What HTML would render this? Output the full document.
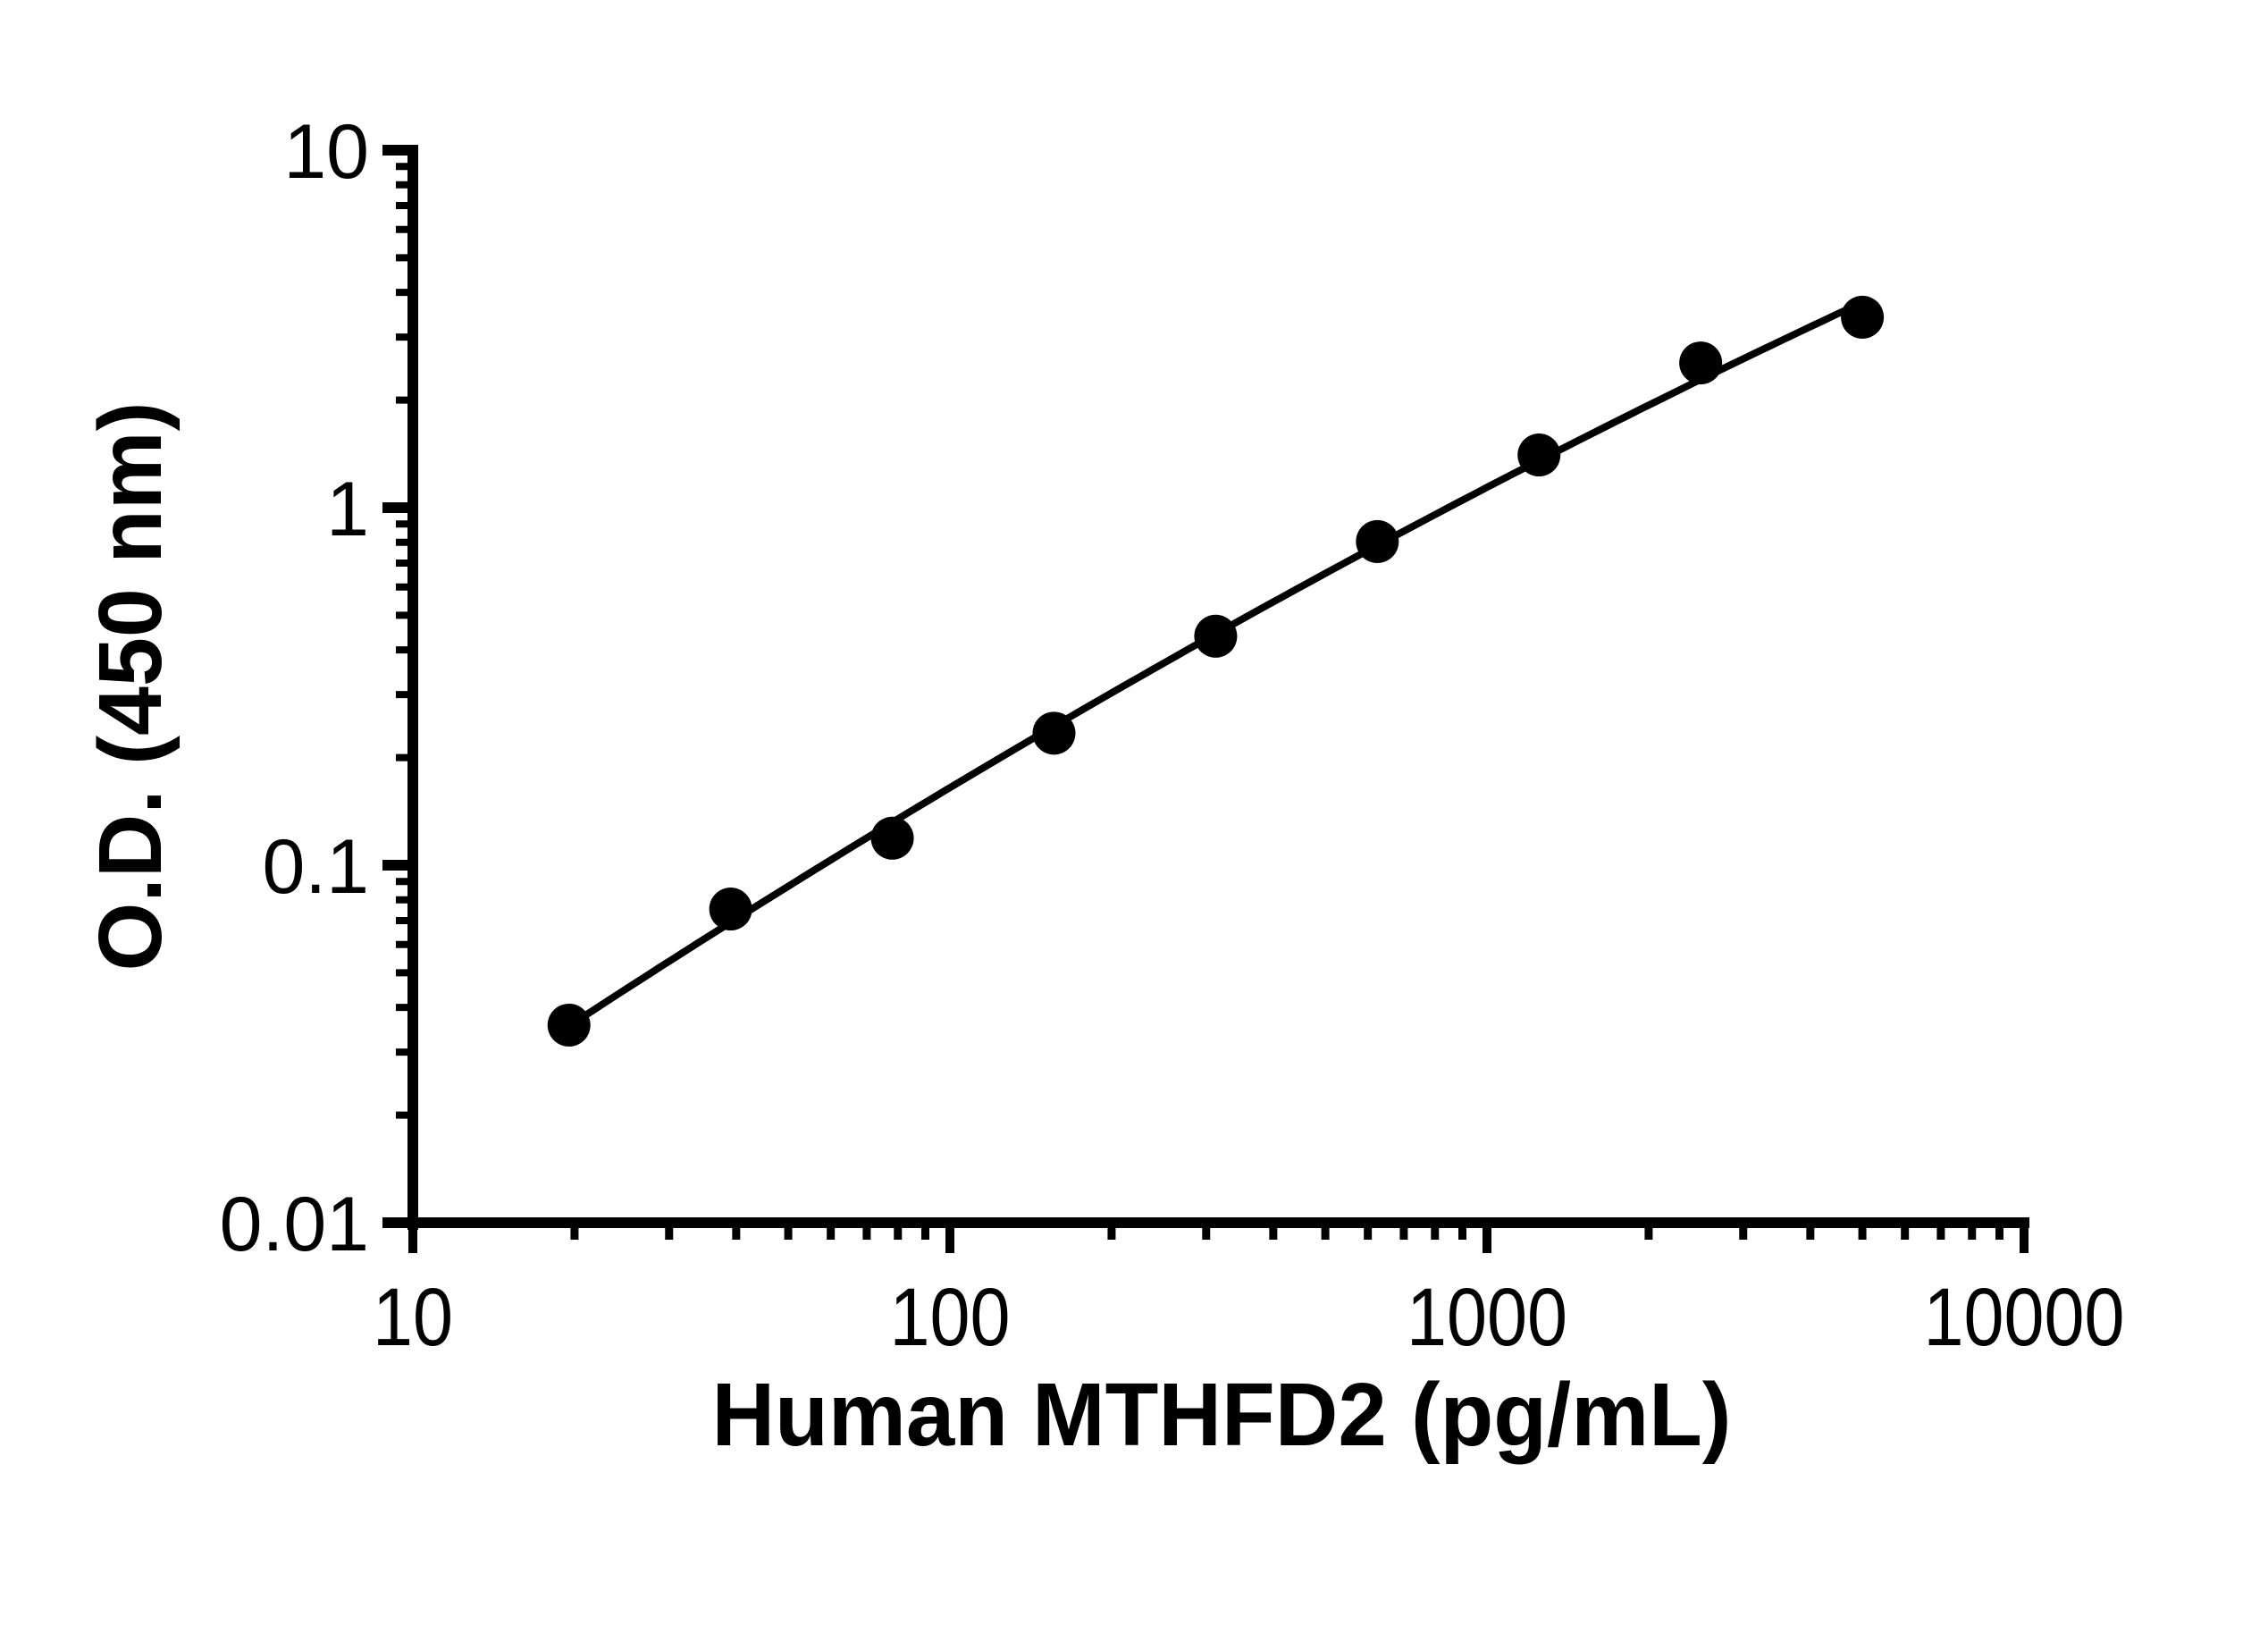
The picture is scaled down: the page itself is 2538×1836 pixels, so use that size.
<!DOCTYPE html>
<html><head><meta charset="utf-8"><style>html,body{margin:0;padding:0;background:#fff}svg{display:block}</style></head>
<body>
<svg id="chart" width="2538" height="1836" viewBox="0 0 2538 1836" xmlns="http://www.w3.org/2000/svg" font-family="'Liberation Sans', Arial, sans-serif">
<rect width="2538" height="1836" fill="#fff"/>
<g id="axes"></g>
<g id="series"></g>
<text x="1367" y="1617" text-anchor="middle" font-size="100" font-weight="bold" textLength="1141" lengthAdjust="spacingAndGlyphs">Human MTHFD2 (pg/mL)</text>
<text transform="translate(180,768) rotate(-90)" text-anchor="middle" font-size="100" font-weight="bold" textLength="637" lengthAdjust="spacingAndGlyphs">O.D. (450 nm)</text>
</svg>
<script>
const concentrations = [19.53, 39.06, 78.125, 156.25, 312.5, 625, 1250, 2500, 5000];
const odValues = [0.0357, 0.0754, 0.119, 0.234, 0.437, 0.804, 1.404, 2.54, 3.41];
const xTickValues = [10, 100, 1000, 10000];
const xTickLabels = ["10", "100", "1000", "10000"];
const yTickValues = [0.01, 0.1, 1, 10];
const yTickLabels = ["0.01", "0.1", "1", "10"];

const NS = "http://www.w3.org/2000/svg";
const X0 = 462, XDEC = 601, Y0 = 1368, YDEC = 400;
function xs(v){ return X0 + (Math.log10(v) - 1) * XDEC; }
function ys(v){ return Y0 - (Math.log10(v) + 2) * YDEC; }
function mk(tag, attrs, parent){ const e = document.createElementNS(NS, tag); for (const k in attrs) e.setAttribute(k, attrs[k]); parent.appendChild(e); return e; }

const axes = document.getElementById('axes');
const series = document.getElementById('series');

// axis lines
const yAxis = mk('line', {x1: X0, y1: ys(10) - 6, x2: X0, y2: Y0 + 8, stroke: '#000', 'stroke-width': 12}, axes);


const xAxis = mk('line', {x1: 428, y1: Y0, x2: xs(10000) + 6, y2: Y0, stroke: '#000', 'stroke-width': 12}, axes);



// y ticks
for (let d = -2; d < 1; d++) {
  for (let m = 2; m <= 9; m++) {
    const y = ys(m * Math.pow(10, d));
    const t = mk('line', {x1: 443, y1: y, x2: X0, y2: y, stroke: '#000', 'stroke-width': 8}, axes);
    
    
  }
}
yTickValues.forEach((v, i) => {
  const y = ys(v);
  const t = mk('line', {x1: 428, y1: y, x2: X0, y2: y, stroke: '#000', 'stroke-width': 12}, axes);
  
  
  const l = mk('text', {x: 413, y: y + 31, 'text-anchor': 'end', 'font-size': 86}, axes);
  l.textContent = yTickLabels[i];
  
  
});

// x ticks
for (let d = 1; d < 4; d++) {
  for (let m = 2; m <= 9; m++) {
    const x = xs(m * Math.pow(10, d));
    const t = mk('line', {x1: x, y1: Y0, x2: x, y2: 1387, stroke: '#000', 'stroke-width': 9}, axes);
    
    
  }
}
xTickValues.forEach((v, i) => {
  const x = xs(v);
  const t = mk('line', {x1: x, y1: Y0, x2: x, y2: 1402, stroke: '#000', 'stroke-width': 10}, axes);
  
  
  const l = mk('text', {x: x, y: 1505, 'text-anchor': 'middle', 'font-size': 92, transform: 'translate(' + x + ',0) scale(0.88,1) translate(' + (-x) + ',0)'}, axes);
  l.textContent = xTickLabels[i];
  
  
});

// quadratic fit in log-log space for curve
const lx = concentrations.map(v => Math.log10(v)), ly = odValues.map(v => Math.log10(v));
function fitQuad(X, Y){
  let S = [0,0,0,0,0], T = [0,0,0];
  for (let i = 0; i < X.length; i++) { let p = 1; for (let k = 0; k < 5; k++){ S[k] += p; if (k < 3) T[k] += p * Y[i]; p *= X[i]; } }
  const A = [[S[0],S[1],S[2],T[0]],[S[1],S[2],S[3],T[1]],[S[2],S[3],S[4],T[2]]];
  for (let c = 0; c < 3; c++) { for (let r = c + 1; r < 3; r++) { const f = A[r][c] / A[c][c]; for (let k = c; k < 4; k++) A[r][k] -= f * A[c][k]; } }
  const b = [0,0,0];
  for (let r = 2; r >= 0; r--) { let s = A[r][3]; for (let k = r + 1; k < 3; k++) s -= A[r][k] * b[k]; b[r] = s / A[r][r]; }
  return b;
}
const cf = fitQuad(lx, ly);
let d = '';
const a0 = lx[0], a1 = lx[lx.length - 1];
for (let i = 0; i <= 100; i++) {
  const u = a0 + (a1 - a0) * i / 100;
  const v = cf[0] + cf[1] * u + cf[2] * u * u;
  d += (i ? 'L' : 'M') + xs(Math.pow(10, u)).toFixed(1) + ',' + ys(Math.pow(10, v)).toFixed(1);
}
const curve = mk('path', {d: d, fill: 'none', stroke: '#000', 'stroke-width': 8}, series);



concentrations.forEach((c, i) => {
  const p = mk('circle', {cx: xs(c), cy: ys(odValues[i]), r: 24, fill: '#000'}, series);
  
  
});
</script>
</body></html>
